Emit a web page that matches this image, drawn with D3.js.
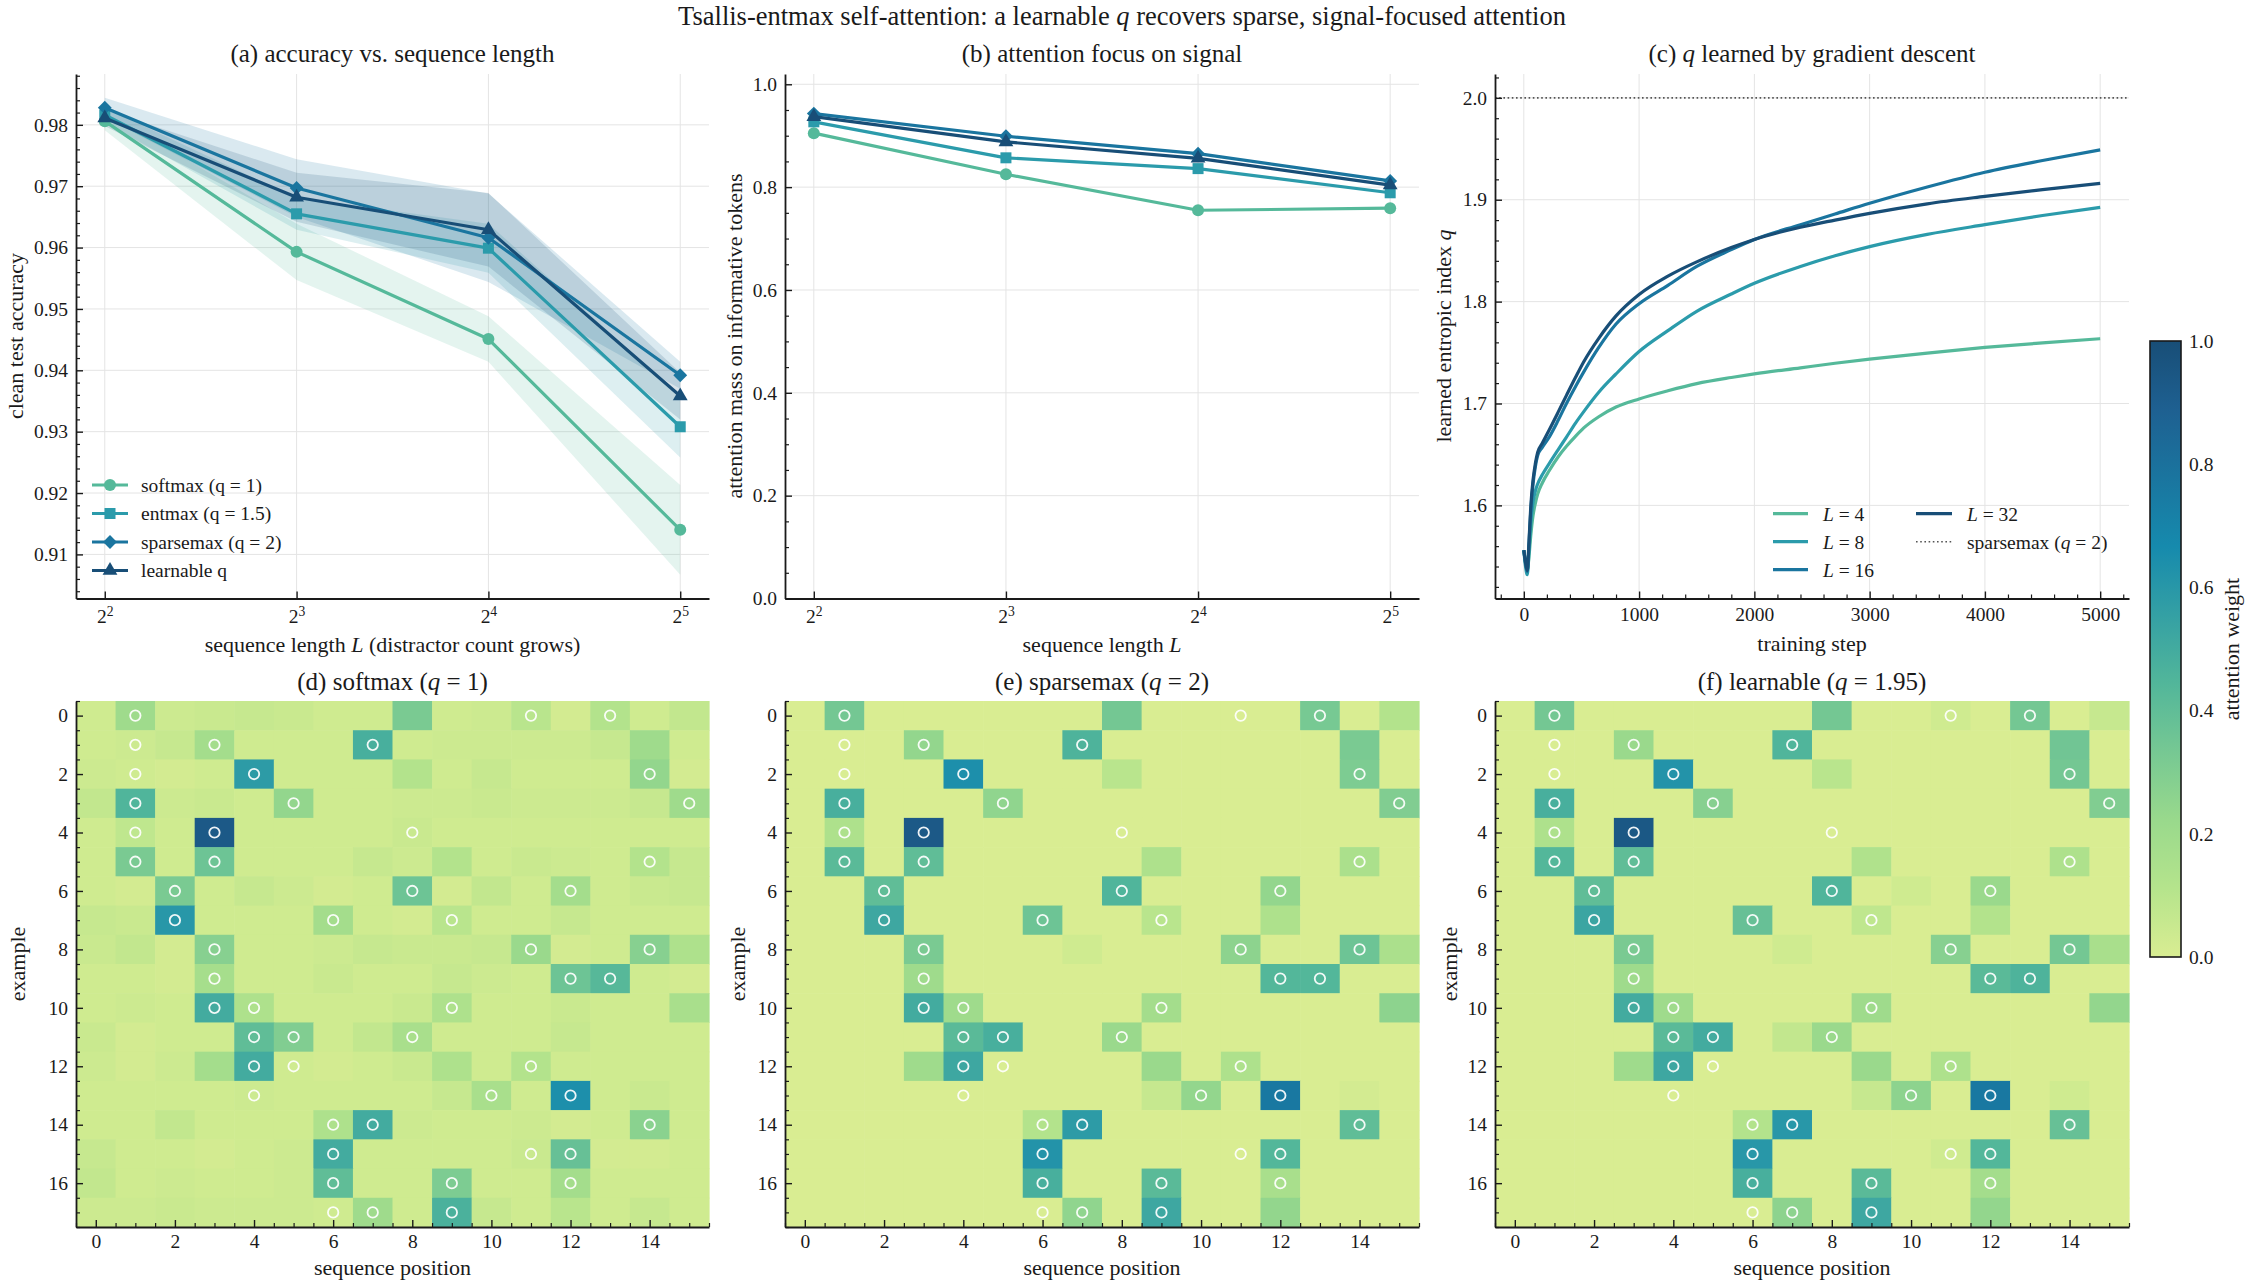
<!DOCTYPE html>
<html>
<head>
<meta charset="utf-8">
<script src="https://cdn.jsdelivr.net/npm/d3@7"></script>
<style>
  body { margin: 0; background: #fff; }
  svg { display: block; font-family: "Liberation Serif", "Times New Roman", serif; }
</style>
</head>
<body>
<svg id="fig" width="2245" height="1286"></svg>
<script>
// ---- data ----
const seqLens = [4, 8, 16, 32]

// (a) clean test accuracy, mean and std over seeds
const accSoftmax = [0.9806, 0.9593, 0.9451, 0.9140]
const accEntmax = [0.9816, 0.9655, 0.9599, 0.9308]
const accSparsemax = [0.9828, 0.9697, 0.9616, 0.9392]
const accLearnable = [0.9811, 0.9682, 0.9629, 0.9358]
const accSoftmaxStd = [0.0015, 0.0046, 0.0037, 0.0073]
const accEntmaxStd = [0.0012, 0.0026, 0.0040, 0.0050]
const accSparsemaxStd = [0.0016, 0.0047, 0.0072, 0.0022]
const accLearnableStd = [0.0013, 0.0040, 0.0060, 0.0038]

// (b) attention mass on informative tokens
const focusSoftmax = [0.905, 0.825, 0.755, 0.759]
const focusEntmax = [0.927, 0.857, 0.836, 0.789]
const focusSparsemax = [0.943, 0.899, 0.865, 0.812]
const focusLearnable = [0.937, 0.888, 0.856, 0.804]

const methodNames = ["softmax (q = 1)", "entmax (q = 1.5)", "sparsemax (q = 2)", "learnable q"]

// (c) learned q during training
const trainSteps = [0, 15, 30, 45, 60, 80, 100, 120, 160, 220, 300, 370, 450, 520, 650, 800, 1000, 1250, 1500, 1800, 2000, 2400, 2700, 3000, 3500, 4000, 4500, 5000]
const qL4 = [1.556, 1.545, 1.536, 1.550, 1.570, 1.590, 1.602, 1.611, 1.622, 1.634, 1.648, 1.658, 1.668, 1.676, 1.687, 1.6965, 1.7045, 1.7125, 1.7195, 1.7255, 1.729, 1.735, 1.7395, 1.7435, 1.7495, 1.755, 1.7595, 1.7636]
const qL8 = [1.556, 1.540, 1.532, 1.555, 1.582, 1.603, 1.614, 1.621, 1.630, 1.641, 1.655, 1.667, 1.681, 1.692, 1.711, 1.729, 1.751, 1.7715, 1.7905, 1.8075, 1.818, 1.8345, 1.845, 1.854, 1.866, 1.8755, 1.8845, 1.8925]
const qL16 = [1.556, 1.543, 1.535, 1.562, 1.594, 1.621, 1.638, 1.649, 1.657, 1.667, 1.684, 1.700, 1.717, 1.731, 1.755, 1.778, 1.798, 1.816, 1.8345, 1.851, 1.861, 1.8755, 1.886, 1.8965, 1.9125, 1.927, 1.9385, 1.949]
const qL32 = [1.556, 1.544, 1.536, 1.565, 1.598, 1.625, 1.641, 1.652, 1.661, 1.674, 1.692, 1.708, 1.726, 1.741, 1.764, 1.786, 1.807, 1.825, 1.839, 1.853, 1.861, 1.873, 1.880, 1.8866, 1.896, 1.9033, 1.910, 1.916]
const curveLens = ["4", "8", "16", "32"]
const sparsemaxQ = 2.0

// (d)-(f) attention weights, 18 examples x 16 positions
const attnSoftmax = [
  [.03, .20, .04, .05, .06, .05, .03, .03, .32, .03, .04, .10, .02, .12, .03, .07],
  [.03, .04, .06, .18, .03, .03, .03, .48, .03, .04, .04, .04, .04, .06, .20, .03],
  [.04, .03, .02, .03, .58, .03, .03, .03, .12, .03, .06, .03, .03, .03, .24, .02],
  [.07, .45, .04, .05, .03, .24, .03, .03, .04, .04, .05, .04, .04, .04, .06, .20],
  [.03, .08, .03, .93, .03, .03, .03, .03, .05, .03, .03, .03, .03, .03, .03, .03],
  [.03, .32, .03, .36, .03, .03, .03, .06, .04, .12, .03, .05, .04, .03, .12, .06],
  [.03, .02, .32, .03, .06, .04, .02, .03, .36, .02, .07, .03, .18, .03, .05, .06],
  [.06, .05, .60, .03, .03, .03, .18, .03, .02, .10, .03, .03, .06, .03, .03, .03],
  [.05, .07, .02, .28, .03, .03, .04, .06, .05, .05, .06, .22, .02, .03, .28, .14],
  [.03, .03, .02, .17, .03, .03, .05, .03, .03, .06, .04, .03, .36, .43, .03, .02],
  [.03, .04, .03, .50, .14, .03, .03, .03, .05, .14, .03, .03, .05, .03, .03, .16],
  [.05, .02, .03, .03, .40, .30, .03, .07, .16, .03, .03, .03, .06, .03, .03, .03],
  [.04, .02, .04, .18, .50, .03, .02, .03, .05, .14, .03, .12, .03, .03, .03, .03],
  [.03, .03, .03, .03, .04, .03, .03, .03, .03, .06, .16, .03, .64, .03, .05, .03],
  [.03, .03, .07, .03, .03, .03, .14, .50, .04, .03, .03, .04, .02, .03, .27, .03],
  [.06, .03, .03, .02, .03, .04, .50, .03, .03, .03, .03, .05, .38, .02, .02, .03],
  [.07, .03, .04, .03, .03, .04, .40, .03, .03, .31, .03, .03, .18, .03, .03, .03],
  [.04, .04, .05, .04, .04, .04, .03, .20, .03, .47, .06, .03, .10, .03, .06, .03]
]
const attnSparsemax = [
  [0, .34, 0, 0, 0, 0, 0, 0, .34, 0, 0, 0, 0, .33, 0, .12],
  [0, 0, 0, .24, 0, 0, 0, .46, 0, 0, 0, 0, 0, 0, .32, 0],
  [0, 0, 0, 0, .64, 0, 0, 0, .10, 0, 0, 0, 0, 0, .31, 0],
  [0, .48, 0, 0, 0, .25, 0, 0, 0, 0, 0, 0, 0, 0, 0, .30],
  [0, .14, 0, .93, 0, 0, 0, 0, 0, 0, 0, 0, 0, 0, 0, 0],
  [0, .42, 0, .40, 0, 0, 0, 0, 0, .14, 0, 0, 0, 0, .15, 0],
  [0, 0, .40, 0, 0, 0, 0, 0, .45, 0, 0, 0, .24, 0, 0, 0],
  [0, 0, .52, 0, 0, 0, .36, 0, 0, .10, 0, 0, .14, 0, 0, 0],
  [0, 0, 0, .32, 0, 0, 0, .03, 0, 0, 0, .26, 0, 0, .36, .15],
  [0, 0, 0, .20, 0, 0, 0, 0, 0, 0, 0, 0, .44, .44, 0, 0],
  [0, 0, 0, .50, .20, 0, 0, 0, 0, .18, 0, 0, 0, 0, 0, .26],
  [0, 0, 0, 0, .42, .48, 0, 0, .22, 0, 0, 0, 0, 0, 0, 0],
  [0, 0, 0, .20, .52, 0, 0, 0, 0, .22, 0, .14, 0, 0, 0, 0],
  [0, 0, 0, 0, 0, 0, 0, 0, 0, .06, .24, 0, .76, 0, .02, 0],
  [0, 0, 0, 0, 0, 0, .12, .58, 0, 0, 0, 0, 0, 0, .40, 0],
  [0, 0, 0, 0, 0, 0, .62, 0, 0, 0, 0, 0, .44, 0, 0, 0],
  [0, 0, 0, 0, 0, 0, .48, 0, 0, .42, 0, 0, .16, 0, 0, 0],
  [0, 0, 0, 0, 0, 0, 0, .25, 0, .52, 0, 0, .24, 0, 0, 0]
]
const attnLearnable = [
  [0, .34, 0, 0, 0, 0, 0, 0, .34, 0, 0, .03, 0, .34, 0, .06],
  [0, 0, 0, .22, 0, 0, 0, .45, 0, 0, 0, 0, 0, 0, .35, 0],
  [0, 0, 0, 0, .62, 0, 0, 0, .10, 0, 0, 0, 0, 0, .34, 0],
  [0, .48, 0, 0, 0, .28, 0, 0, 0, 0, 0, 0, 0, 0, 0, .30],
  [0, .14, 0, .94, 0, 0, 0, 0, 0, 0, 0, 0, 0, 0, 0, 0],
  [0, .44, 0, .40, 0, 0, 0, 0, 0, .13, 0, 0, 0, 0, .14, 0],
  [0, 0, .40, 0, 0, 0, 0, 0, .45, 0, .03, 0, .22, 0, 0, 0],
  [0, 0, .53, 0, 0, 0, .38, 0, 0, .08, 0, 0, .12, 0, 0, 0],
  [0, 0, 0, .32, 0, 0, 0, .03, 0, 0, 0, .28, 0, 0, .34, .16],
  [0, 0, 0, .20, 0, 0, 0, 0, 0, 0, 0, 0, .42, .46, 0, 0],
  [0, 0, 0, .50, .20, 0, 0, 0, 0, .20, 0, 0, 0, 0, 0, .24],
  [0, 0, 0, 0, .42, .50, 0, .07, .22, 0, 0, 0, 0, 0, 0, 0],
  [0, 0, 0, .20, .52, 0, 0, 0, 0, .22, 0, .14, 0, 0, 0, 0],
  [0, 0, 0, 0, 0, 0, 0, 0, 0, .06, .26, 0, .76, 0, .03, 0],
  [0, 0, 0, 0, 0, 0, .12, .60, 0, 0, 0, 0, 0, 0, .38, 0],
  [0, 0, 0, 0, 0, 0, .60, 0, 0, 0, 0, .03, .44, 0, 0, 0],
  [0, 0, 0, 0, 0, 0, .48, 0, 0, .42, 0, 0, .18, 0, 0, 0],
  [0, 0, 0, 0, 0, 0, 0, .26, 0, .52, 0, 0, .24, 0, 0, 0]
]
// positions of the informative tokens in each example (circled)
const informativePos = [
  [1, 11, 13], [1, 3, 7], [1, 4, 14], [1, 5, 15], [1, 3, 8], [1, 3, 14],
  [2, 8, 12], [2, 6, 9], [3, 11, 14], [3, 12, 13], [3, 4, 9], [4, 5, 8],
  [4, 5, 11], [4, 10, 12], [6, 7, 14], [6, 11, 12], [6, 9, 12], [6, 7, 9]
]

// ---- style ----
const methodColors = ["#55b99a", "#2b9bab", "#1a759f", "#184e77"]
const cmapStops = ["#d9ed92", "#b5e48c", "#99d98c", "#76c893", "#52b69a", "#34a0a4", "#168aad", "#1a759f", "#1e6091", "#184e77"]
const SERIF = '"Liberation Serif", "Times New Roman", serif'
const INK = "#1a1a1a"
const GRID = "#e4e4e4"
const FS_TICK = 19.5, FS_LABEL = 22, FS_TITLE = 25, FS_LEGEND = 19.5

const colX = [[76, 709], [785, 1419], [1495, 2129]]
const topRow = [598.5, 74]
const botRow = [1227, 701]

const svg = d3.select("#fig")
svg.append("rect").attr("width", 2245).attr("height", 1286).attr("fill", "#fff")

// text with italic math pieces: parts = [[str, italic?], ...]
function rich(sel, parts) {
  parts.forEach(p => {
    const t = sel.append("tspan").text(p[0])
    if (p[1]) t.attr("font-style", "italic")
  })
  return sel
}

function addText(x, y, parts, size, opts = {}) {
  const t = svg.append("text")
    .attr("x", x).attr("y", y)
    .attr("font-family", SERIF)
    .attr("font-size", size)
    .attr("fill", INK)
    .attr("text-anchor", opts.anchor || "middle")
    .attr("dominant-baseline", "central")
  if (opts.rotate) t.attr("transform", `rotate(-90,${x},${y})`)
  return rich(t, typeof parts === "string" ? [[parts]] : parts)
}

function styleAxis(g) {
  g.attr("font-family", SERIF).attr("font-size", FS_TICK)
  g.select(".domain").attr("stroke", INK).attr("stroke-width", 1.8)
  g.selectAll(".tick line").attr("stroke", INK).attr("stroke-width", 1.4)
  g.selectAll(".tick text").attr("fill", INK).attr("font-family", SERIF)
}

// draws left/bottom spines with inward ticks
function drawAxes(g, x, y, o) {
  const xr = x.range(), yr = y.range()
  if (o.xMinor) {
    g.append("g").attr("transform", `translate(0,${yr[0]})`)
      .call(d3.axisBottom(x).tickValues(o.xMinor).tickSize(-4).tickFormat(""))
      .call(a => { a.select(".domain").remove(); a.selectAll("line").attr("stroke", INK).attr("stroke-width", 1.2) })
  }
  if (o.yMinor) {
    g.append("g").attr("transform", `translate(${xr[0]},0)`)
      .call(d3.axisLeft(y).tickValues(o.yMinor).tickSize(-4).tickFormat(""))
      .call(a => { a.select(".domain").remove(); a.selectAll("line").attr("stroke", INK).attr("stroke-width", 1.2) })
  }
  const ax = g.append("g").attr("transform", `translate(0,${yr[0]})`)
    .call(d3.axisBottom(x).tickValues(o.xTicks).tickSizeInner(-7).tickSizeOuter(0)
      .tickPadding(o.xPad || 9).tickFormat(o.xFormat || (d => d)))
  styleAxis(ax)
  const ay = g.append("g").attr("transform", `translate(${xr[0]},0)`)
    .call(d3.axisLeft(y).tickValues(o.yTicks).tickSizeInner(-7).tickSizeOuter(0)
      .tickPadding(8).tickFormat(o.yFormat || (d => d)))
  styleAxis(ay)
  return ax
}

function drawGrid(g, x, y, xt, yt) {
  const xr = x.range(), yr = y.range()
  g.append("g").selectAll("line").data(xt).join("line")
    .attr("x1", d => x(d)).attr("x2", d => x(d)).attr("y1", yr[0]).attr("y2", yr[1])
    .attr("stroke", GRID).attr("stroke-width", 1)
  g.append("g").selectAll("line").data(yt).join("line")
    .attr("y1", d => y(d)).attr("y2", d => y(d)).attr("x1", xr[0]).attr("x2", xr[1])
    .attr("stroke", GRID).attr("stroke-width", 1)
}

// markers: circle, square, diamond, triangle
const markerPaths = [
  d3.symbol(d3.symbolCircle, Math.PI * 36)(),
  d3.symbol(d3.symbolSquare, 121)(),
  d3.symbol(d3.symbolSquare, 96)(),
  d3.symbol(d3.symbolTriangle, 95)()
]
const markerRot = [0, 0, 45, 0]

function drawMarker(g, k, cx, cy, color) {
  g.append("path").attr("d", markerPaths[k])
    .attr("transform", `translate(${cx},${cy}) rotate(${markerRot[k]})`)
    .attr("fill", color)
}

function log2Label(sel) {
  sel.selectAll(".tick text").each(function (d) {
    const t = d3.select(this).text("")
    t.append("tspan").text("2")
    t.append("tspan").text(Math.round(Math.log2(d))).attr("font-size", FS_TICK * 0.7).attr("dy", "-0.55em")
  })
}

const log2Scale = (i) => d3.scaleLog().base(2)
  .domain([Math.pow(2, 1.85), Math.pow(2, 5.15)]).range(colX[i])

// ---- (a) accuracy ----
{
  const means = [accSoftmax, accEntmax, accSparsemax, accLearnable]
  const stds = [accSoftmaxStd, accEntmaxStd, accSparsemaxStd, accLearnableStd]
  const lo = d3.min(means.map((m, k) => d3.min(m, (v, j) => v - stds[k][j])))
  const hi = d3.max(means.map((m, k) => d3.max(m, (v, j) => v + stds[k][j])))
  const pad = (hi - lo) * 0.05
  const x = log2Scale(0)
  const y = d3.scaleLinear().domain([lo - pad, hi + pad]).range(topRow)
  const g = svg.append("g")
  const yTicks = d3.range(0.91, 0.985, 0.01).map(v => +v.toFixed(2))
  drawGrid(g, x, y, seqLens, yTicks)

  means.forEach((m, k) => {
    const area = d3.area().x((d, j) => x(seqLens[j]))
      .y0((d, j) => y(d - stds[k][j])).y1((d, j) => y(d + stds[k][j]))
    g.append("path").attr("d", area(m)).attr("fill", methodColors[k]).attr("fill-opacity", 0.16)
  })
  means.forEach((m, k) => {
    const line = d3.line().x((d, j) => x(seqLens[j])).y(d => y(d))
    g.append("path").attr("d", line(m)).attr("fill", "none")
      .attr("stroke", methodColors[k]).attr("stroke-width", 3.2).attr("stroke-linejoin", "round")
    m.forEach((v, j) => drawMarker(g, k, x(seqLens[j]), y(v), methodColors[k]))
  })

  const yMinor = d3.range(0.904, 0.9885, 0.002).map(v => +v.toFixed(3)).filter(v => Math.abs(v * 100 - Math.round(v * 100)) > 1e-6)
  const ax = drawAxes(g, x, y, { xTicks: seqLens, yTicks, yMinor, xPad: 11, yFormat: d3.format(".2f") })
  log2Label(ax)

  // legend
  methodNames.forEach((name, k) => {
    const ly = 485 + k * 28.5
    g.append("line").attr("x1", 92).attr("x2", 128).attr("y1", ly).attr("y2", ly)
      .attr("stroke", methodColors[k]).attr("stroke-width", 3.2)
    drawMarker(g, k, 110, ly, methodColors[k])
    g.append("text").attr("x", 141).attr("y", ly).attr("dominant-baseline", "central")
      .attr("font-family", SERIF).attr("font-size", FS_LEGEND).attr("fill", INK).text(name)
  })

  addText(392.5, 52.5, "(a) accuracy vs. sequence length", FS_TITLE)
  addText(392.5, 644, [["sequence length "], ["L", 1], [" (distractor count grows)"]], FS_LABEL)
  addText(15, 336, "clean test accuracy", FS_LABEL, { rotate: true })
}

// ---- (b) attention focus ----
{
  const series = [focusSoftmax, focusEntmax, focusSparsemax, focusLearnable]
  const x = log2Scale(1)
  const y = d3.scaleLinear().domain([0, 1.02]).range(topRow)
  const g = svg.append("g")
  const yTicks = [0, 0.2, 0.4, 0.6, 0.8, 1.0]
  drawGrid(g, x, y, seqLens, yTicks)
  series.forEach((m, k) => {
    const line = d3.line().x((d, j) => x(seqLens[j])).y(d => y(d))
    g.append("path").attr("d", line(m)).attr("fill", "none")
      .attr("stroke", methodColors[k]).attr("stroke-width", 3.2).attr("stroke-linejoin", "round")
    m.forEach((v, j) => drawMarker(g, k, x(seqLens[j]), y(v), methodColors[k]))
  })
  const yMinor = d3.range(0.05, 1.02, 0.05).map(v => +v.toFixed(2)).filter(v => Math.abs(v * 5 - Math.round(v * 5)) > 1e-6)
  const ax = drawAxes(g, x, y, { xTicks: seqLens, yTicks, yMinor, xPad: 11, yFormat: d3.format(".1f") })
  log2Label(ax)
  addText(1102, 52.5, "(b) attention focus on signal", FS_TITLE)
  addText(1102, 644, [["sequence length "], ["L", 1]], FS_LABEL)
  addText(734, 336, "attention mass on informative tokens", FS_LABEL, { rotate: true })
}

// ---- (c) learned q ----
{
  const series = [qL4, qL8, qL16, qL32]
  const lo = d3.min(series.map(s => d3.min(s)))
  const hi = Math.max(d3.max(series.map(s => d3.max(s))), sparsemaxQ)
  const pad = (hi - lo) * 0.05
  const xPad = (d3.max(trainSteps) - d3.min(trainSteps)) * 0.05
  const x = d3.scaleLinear().domain([d3.min(trainSteps) - xPad, d3.max(trainSteps) + xPad]).range(colX[2])
  const y = d3.scaleLinear().domain([lo - pad, hi + pad]).range(topRow)
  const g = svg.append("g")
  const xTicks = [0, 1000, 2000, 3000, 4000, 5000]
  const yTicks = [1.6, 1.7, 1.8, 1.9, 2.0]
  drawGrid(g, x, y, xTicks, yTicks)

  g.append("line").attr("x1", colX[2][0]).attr("x2", colX[2][1])
    .attr("y1", y(sparsemaxQ)).attr("y2", y(sparsemaxQ))
    .attr("stroke", "#555").attr("stroke-width", 1.6).attr("stroke-dasharray", "1.6,2.6")

  series.forEach((s, k) => {
    const line = d3.line().curve(d3.curveMonotoneX).x((d, j) => x(trainSteps[j])).y(d => y(d))
    g.append("path").attr("d", line(s)).attr("fill", "none")
      .attr("stroke", methodColors[k]).attr("stroke-width", 3.2).attr("stroke-linejoin", "round")
  })

  const xMinor = d3.range(-200, 5201, 200).filter(v => v % 1000 !== 0)
  const yMinor = d3.range(1.52, 2.021, 0.02).map(v => +v.toFixed(2)).filter(v => Math.abs(v * 10 - Math.round(v * 10)) > 1e-6)
  drawAxes(g, x, y, { xTicks, yTicks, xMinor, yMinor, xPad: 9, yFormat: d3.format(".1f") })

  // legend, two columns
  const legItems = curveLens.map((l, k) => ({ parts: [["L", 1], [" = " + l]], color: methodColors[k], dotted: false }))
  legItems.push({ parts: [["sparsemax ("], ["q", 1], [" = 2)"]], color: "#555", dotted: true })
  const cols = [[1773, 1808, 1823], [1916, 1952, 1967]]
  legItems.forEach((it, k) => {
    const c = k < 3 ? 0 : 1, r = k < 3 ? k : k - 3
    const ly = 513.7 + r * 28
    const ln = g.append("line").attr("x1", cols[c][0]).attr("x2", cols[c][1]).attr("y1", ly).attr("y2", ly)
      .attr("stroke", it.color)
    if (it.dotted) ln.attr("stroke-width", 1.6).attr("stroke-dasharray", "1.6,2.6")
    else ln.attr("stroke-width", 3.2)
    const t = g.append("text").attr("x", cols[c][2]).attr("y", ly).attr("dominant-baseline", "central")
      .attr("font-family", SERIF).attr("font-size", FS_LEGEND).attr("fill", INK)
    rich(t, it.parts)
  })

  addText(1812, 52.5, [["(c) "], ["q", 1], [" learned by gradient descent"]], FS_TITLE)
  addText(1812, 643, "training step", FS_LABEL)
  addText(1443, 336, [["learned entropic index "], ["q", 1]], FS_LABEL, { rotate: true })
}

// ---- (d)-(f) heatmaps ----
const cmap = d3.scaleLinear()
  .domain(cmapStops.map((c, k) => k / (cmapStops.length - 1)))
  .range(cmapStops).clamp(true)

const heatTitles = [
  [["(d) softmax ("], ["q", 1], [" = 1)"]],
  [["(e) sparsemax ("], ["q", 1], [" = 2)"]],
  [["(f) learnable ("], ["q", 1], [" = 1.95)"]]
]
const yLabelX = [17, 737, 1449];

[attnSoftmax, attnSparsemax, attnLearnable].forEach((mat, i) => {
  const nRow = mat.length, nCol = mat[0].length
  const x = d3.scaleLinear().domain([-0.5, nCol - 0.5]).range(colX[i])
  const y = d3.scaleLinear().domain([-0.5, nRow - 0.5]).range([botRow[1], botRow[0]])
  const g = svg.append("g")
  const cells = mat.flatMap((row, r) => row.map((v, c) => ({ r, c, v })))
  g.append("g").selectAll("rect").data(cells).join("rect")
    .attr("x", d => x(d.c - 0.5)).attr("y", d => y(d.r - 0.5))
    .attr("width", x(1) - x(0) + 0.6).attr("height", y(1) - y(0) + 0.6)
    .attr("fill", d => cmap(d.v))

  const marks = informativePos.flatMap((cs, r) => cs.map(c => ({ r, c })))
  g.append("g").selectAll("circle").data(marks).join("circle")
    .attr("cx", d => x(d.c)).attr("cy", d => y(d.r)).attr("r", 5.2)
    .attr("fill", "none").attr("stroke", "#fff").attr("stroke-width", 1.8).attr("stroke-opacity", 0.92)

  // axis scale with row 0 at the top
  const yAx = d3.scaleLinear().domain([nRow - 0.5, -0.5]).range([botRow[0], botRow[1]])
  const xMinor = d3.range(-0.5, nCol - 0.4, 0.5).filter(v => v % 2 !== 0)
  const yMinor = d3.range(-0.5, nRow - 0.4, 0.5).filter(v => v % 2 !== 0)
  drawAxes(g, x, yAx, {
    xTicks: d3.range(0, nCol, 2), yTicks: d3.range(0, nRow, 2),
    xMinor, yMinor, xPad: 7
  })

  const cx = (colX[i][0] + colX[i][1]) / 2
  addText(cx, 680.5, heatTitles[i], FS_TITLE)
  addText(cx, 1267, "sequence position", FS_LABEL)
  addText(yLabelX[i], (botRow[0] + botRow[1]) / 2, "example", FS_LABEL, { rotate: true })
})

// ---- colorbar ----
{
  const cb = { x: 2150, w: 31, y0: 957, y1: 341 }
  const grad = svg.append("defs").append("linearGradient").attr("id", "cbar")
    .attr("x1", 0).attr("y1", 1).attr("x2", 0).attr("y2", 0)
  cmapStops.forEach((c, k) => grad.append("stop").attr("offset", k / (cmapStops.length - 1)).attr("stop-color", c))
  svg.append("rect").attr("x", cb.x).attr("y", cb.y1).attr("width", cb.w).attr("height", cb.y0 - cb.y1)
    .attr("fill", "url(#cbar)").attr("stroke", INK).attr("stroke-width", 1.6)
  const s = d3.scaleLinear().domain([0, 1]).range([cb.y0, cb.y1])
  const ag = svg.append("g").attr("transform", `translate(${cb.x + cb.w},0)`)
    .call(d3.axisRight(s).tickValues([0, 0.2, 0.4, 0.6, 0.8, 1.0]).tickSizeInner(0).tickSizeOuter(0)
      .tickPadding(8).tickFormat(d3.format(".1f")))
  styleAxis(ag)
  ag.select(".domain").remove()
  addText(2231, (cb.y0 + cb.y1) / 2, "attention weight", FS_LABEL, { rotate: true })
}

// ---- suptitle ----
addText(1122, 15.5, [["Tsallis-entmax self-attention: a learnable "], ["q", 1], [" recovers sparse, signal-focused attention"]], 26.5)
</script>
</body>
</html>
